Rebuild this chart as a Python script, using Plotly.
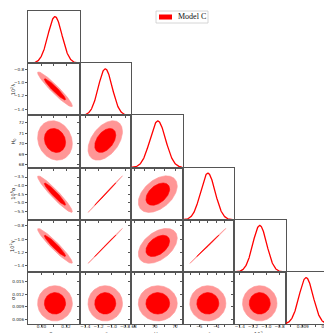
import numpy as np
import plotly.graph_objects as go

# parameter names, marginal means / widths
names = ['Ω<sub>m0</sub>', '10<sup>2</sup>λ', 'H<sub>0</sub>', '10<sup>5</sup>α', '10<sup>2</sup>γ', 'σ']
means = [0.311, -1.10, 70.3, -4.50, -1.10, 0.0098]
sigmas = [0.0057, 0.105, 0.76, 0.43, 0.105, 0.0017]
ranges = [[0.289, 0.331], [-1.49, -0.71], [67.7, 72.7], [-6.0, -2.95], [-1.49, -0.71], [0.0048, 0.0173]]

# pairwise correlations (lower triangle is what is drawn)
corr = [
    [1.0, -0.95, -0.15, -0.95, -0.95, 0.0],
    [-0.95, 1.0, 0.45, 0.999, 0.999, 0.0],
    [-0.15, 0.45, 1.0, 0.45, 0.45, 0.0],
    [-0.95, 0.999, 0.45, 1.0, 0.999, 0.0],
    [-0.95, 0.999, 0.45, 0.999, 1.0, 0.0],
    [0.0, 0.0, 0.0, 0.0, 0.0, 1.0],
]

xticks = [[0.30, 0.32], [-1.4, -1.2, -1.0, -0.8], [68, 70, 72], [-5, -4],
          [-1.4, -1.2, -1.0, -0.8], [0.009, 0.015]]
xticktext = [['0.30', '0.32'], ['−1.4', '−1.2', '−1.0', '−0.8'], ['68', '70', '72'], ['−5', '−4'],
             ['−1.4', '−1.2', '−1.0', '−0.8'], ['0.009', '0.015']]
xminor = [[0.31], [], [69, 71], [-5.5, -4.5, -3.5], [], [0.006, 0.012]]
yticks = [[], [-1.4, -1.2, -1.0, -0.8], [68, 69, 70, 71, 72], [-5.5, -5.0, -4.5, -4.0, -3.5],
          [-1.4, -1.2, -1.0, -0.8], [0.006, 0.009, 0.012, 0.015]]
yticktext = [[], ['−1.4', '−1.2', '−1.0', '−0.8'], ['68', '69', '70', '71', '72'],
             ['−5.5', '−5.0', '−4.5', '−4.0', '−3.5'], ['−1.4', '−1.2', '−1.0', '−0.8'],
             ['0.006', '0.009', '0.012', '0.015']]

levels = [6.18, 2.30]  # 95% and 68% (chi2, 2 dof)
fill_cols = ['rgb(255,150,150)', 'rgb(255,0,0)']

W, H = 332, 333
x0, pw = 20, 51.5
y0, ph = 3, 52.2
n = len(names)

fig = go.Figure()
layout = {}
tickfont = dict(family='DejaVu Sans', size=4.2, color='#222')
axcommon = dict(showgrid=False, zeroline=False, showline=True, mirror=True,
                linecolor='#555', linewidth=1, ticks='outside', ticklen=2,
                tickwidth=0.8, tickcolor='#555', tickfont=tickfont, ticklabelstandoff=0)

k = 0
for r in range(n):
    for c in range(r + 1):
        k += 1
        xa = 'xaxis' if k == 1 else f'xaxis{k}'
        ya = 'yaxis' if k == 1 else f'yaxis{k}'
        xr = 'x' if k == 1 else f'x{k}'
        yr = 'y' if k == 1 else f'y{k}'
        dx = [(x0 + pw * c) / W, (x0 + pw * (c + 1)) / W]
        dy = [1 - (y0 + ph * (r + 1)) / H, 1 - (y0 + ph * r) / H]
        layout[xa] = dict(axcommon, domain=dx, anchor=yr, range=ranges[c],
                          tickvals=xticks[c], ticktext=xticktext[c],
                          minor=dict(tickvals=xminor[c], ticks='outside', ticklen=2,
                                     tickcolor='#555', tickwidth=0.8),
                          showticklabels=(r == n - 1), ticklabelstandoff=-4)
        if r == c:
            xs = np.linspace(ranges[c][0], ranges[c][1], 200)
            ys = np.exp(-0.5 * ((xs - means[c]) / sigmas[c]) ** 2)
            fig.add_trace(go.Scatter(x=xs, y=ys, mode='lines', xaxis=xr, yaxis=yr,
                                     line=dict(color='red', width=1.3), showlegend=False,
                                     hoverinfo='skip'))
            layout[ya] = dict(axcommon, domain=dy, anchor=xr, range=[0, 1.12],
                              ticks='', showticklabels=False)
        else:
            rho = corr[r][c]
            cov = np.array([[sigmas[c] ** 2, rho * sigmas[c] * sigmas[r]],
                            [rho * sigmas[c] * sigmas[r], sigmas[r] ** 2]])
            L = np.linalg.cholesky(cov)
            t = np.linspace(0, 2 * np.pi, 200)
            circ = np.vstack([np.cos(t), np.sin(t)])
            for lev, col in zip(levels, fill_cols):
                pts = L @ circ * np.sqrt(lev)
                fig.add_trace(go.Scatter(x=means[c] + pts[0], y=means[r] + pts[1], mode='lines',
                                         fill='toself', fillcolor=col, xaxis=xr, yaxis=yr,
                                         line=dict(color=col, width=0.6), showlegend=False,
                                         hoverinfo='skip'))
            layout[ya] = dict(axcommon, domain=dy, anchor=xr, range=ranges[r],
                              tickvals=yticks[r], ticktext=yticktext[r],
                              showticklabels=(c == 0))

annotations = []
labfont = dict(family='DejaVu Sans', size=5, color='#222')
for c in range(n):
    annotations.append(dict(text=names[c], xref='paper', yref='paper', showarrow=False,
                            x=(x0 + pw * (c + 0.5)) / W, y=1 - 326.5 / H, xanchor='center',
                            yanchor='middle', font=labfont))
for r in range(1, n):
    annotations.append(dict(text=names[r], xref='paper', yref='paper', showarrow=False,
                            x=5 / W, y=1 - (y0 + ph * (r + 0.5)) / H, xanchor='center',
                            yanchor='middle', textangle=-90, font=labfont))

# legend box
annotations.append(dict(text='Model C', xref='paper', yref='paper', showarrow=False,
                        x=168 / W, y=1 - 9 / H, xanchor='left', yanchor='middle',
                        font=dict(family='Liberation Serif', size=8, color='#111')))
shapes = [
    dict(type='rect', xref='paper', yref='paper', x0=148 / W, x1=200 / W,
         y0=1 - 15 / H, y1=1 - 3 / H, line=dict(color='#cccccc', width=0.8), fillcolor='white'),
    dict(type='rect', xref='paper', yref='paper', x0=151 / W, x1=164 / W,
         y0=1 - 11.5 / H, y1=1 - 6.5 / H, line=dict(width=0), fillcolor='red'),
]

fig.update_layout(**layout)
fig.update_layout(width=W, height=H, margin=dict(l=0, r=0, t=0, b=0),
                  paper_bgcolor='white', plot_bgcolor='white', showlegend=False,
                  annotations=annotations, shapes=shapes)
fig.write_html('out.html')
